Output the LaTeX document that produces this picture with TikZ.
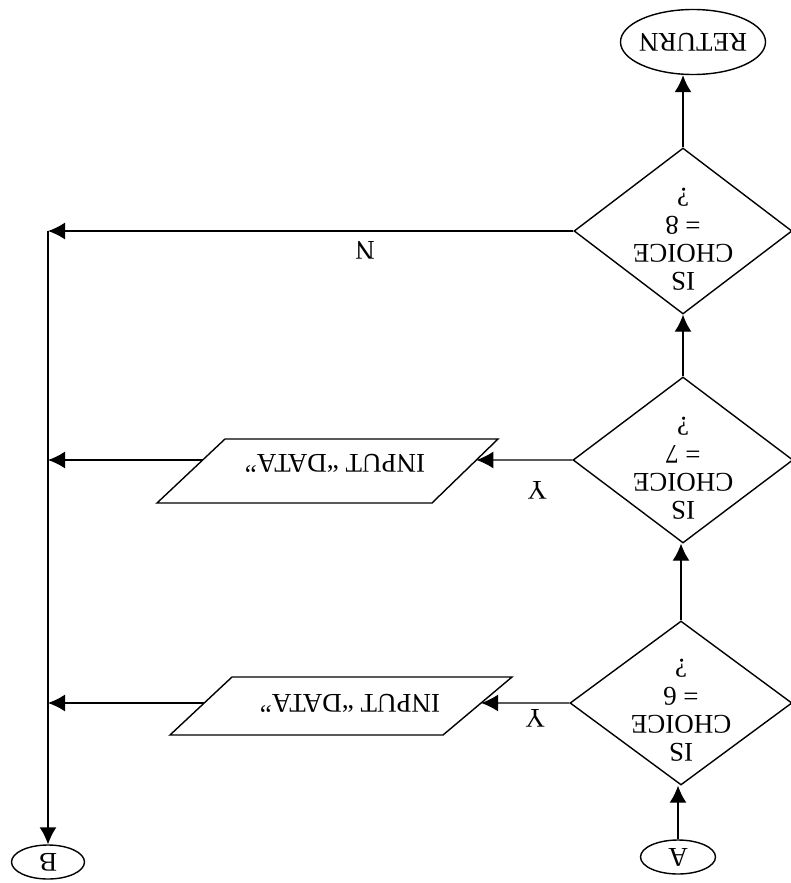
\documentclass[tikz,border=0pt]{standalone}
\usepackage{fontspec}
\setmainfont{Liberation Serif}
\usetikzlibrary{shapes.geometric,arrows.meta,calc}
\tikzset{
  fl/.style={line width=1.4pt, black},
  arr/.style={fl, -{Latex[length=17pt,width=17pt]}},
  term/.style={fl, draw, ellipse, inner sep=0pt},
  decide/.style={fl, draw, diamond, inner sep=0pt, minimum width=218pt, minimum height=166pt},
  txt/.style={font=\fontsize{27}{28}\selectfont, align=center, inner sep=0pt, rotate=180},
}
\begin{document}
\begin{tikzpicture}[x=1pt,y=-1pt]
\useasboundingbox (0,0) rectangle (791,883);

% terminals
\node[term, minimum width=145pt, minimum height=65pt] (ret) at (693,42) {};
\node[txt] at (ret) {RETURN};
\node[term, minimum width=75pt, minimum height=34pt] (A) at (678,857) {};
\node[txt] at (A) {A};
\node[term, minimum width=73pt, minimum height=34pt] (B) at (48,862) {};
\node[txt] at (B) {B};

% decisions
\node[decide] (d1) at (683,231) {};
\node[txt] at ($(d1.center)+(0,8)$) {IS\\CHOICE\\= 8\\?};
\node[decide, minimum width=220pt] (d2) at (683,460) {};
\node[txt] at ($(d2.center)+(0,8)$) {IS\\CHOICE\\= 7\\?};
\node[decide, minimum width=222pt, minimum height=164pt] (d3) at (681,703) {};
\node[txt] at ($(d3.center)+(0,7)$) {IS\\CHOICE\\= 6\\?};

% input boxes
\coordinate (p1tl) at (225,439); \coordinate (p1tr) at (498,439);
\coordinate (p1br) at (432,503); \coordinate (p1bl) at (157,503);
\draw[fl] (p1tl) -- (p1tr) -- (p1br) -- (p1bl) -- cycle;
\node[txt] (p1) at (335,463) {INPUT “DATA”};
\coordinate (p1r) at ($(p1tr)!0.328!(p1br)$);
\coordinate (p1l) at ($(p1tl)!0.328!(p1bl)$);

\coordinate (p2tl) at (232,677); \coordinate (p2tr) at (512,677);
\coordinate (p2br) at (443,735); \coordinate (p2bl) at (170,735);
\draw[fl] (p2tl) -- (p2tr) -- (p2br) -- (p2bl) -- cycle;
\node[txt] (p2) at (350,703) {INPUT “DATA”};
\coordinate (p2r) at ($(p2tr)!0.448!(p2br)$);
\coordinate (p2l) at ($(p2tl)!0.448!(p2bl)$);

% bus on the left
\coordinate (bt) at (48,231);

% main flow
\draw[arr] (A.north) -- (A.north |- d3.south);
\draw[arr] (d3.north) -- (d3.north |- d2.south);
\draw[arr] (d2.north) -- (d1.south);
\draw[arr] (d1.north) -- (d1.north |- ret.south);

% yes branches
\draw[arr] (d3.west) -- (p2r);
\draw[arr] (d2.west) -- (p1r);
\node[txt] (y1) at (537,490) {Y};
\node[txt] (y2) at (535,718) {Y};

% no branch and return lines
\draw[arr] (d1.west) -- (bt);
\node[txt] (n1) at (365,250) {N};
\draw[arr] (bt) -- (B.north);
\draw[arr] (p1l) -- (p1l -| bt);
\draw[arr] (p2l) -- (p2l -| bt);
\end{tikzpicture}
\end{document}
